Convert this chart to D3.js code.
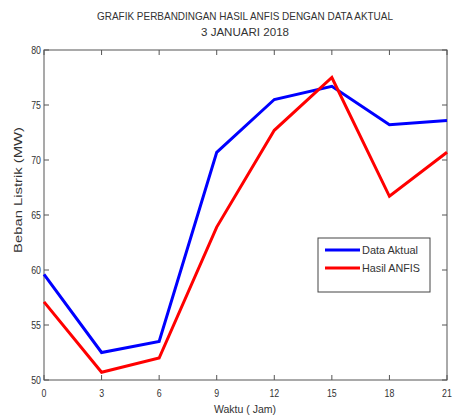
<!DOCTYPE html>
<html><head><meta charset="utf-8">
<script src="https://cdn.jsdelivr.net/npm/d3@7"></script>
<style>body{margin:0;background:#fff}svg{display:block;font-family:"Liberation Sans",Arial,sans-serif}</style>
</head><body><svg id="c" width="453" height="419"></svg>
<script>
const hours = [0, 3, 6, 9, 12, 15, 18, 21];
const dataAktual = [59.6, 52.5, 53.5, 70.7, 75.5, 76.7, 73.2, 73.6];
const hasilAnfis = [57.1, 50.7, 52.0, 63.9, 72.7, 77.5, 66.7, 70.7];
const xTicks = [0, 3, 6, 9, 12, 15, 18, 21];
const yTicks = [50, 55, 60, 65, 70, 75, 80];
const seriesNames = ["Data Aktual", "Hasil ANFIS"];
const seriesColors = ["#0000ff", "#ff0000"];
const titleLines = ["GRAFIK PERBANDINGAN HASIL ANFIS DENGAN DATA AKTUAL", "3 JANUARI 2018"];

const svg = d3.select("#c");
const L = 44, R = 447, T = 50, B = 380;
const x = d3.scaleLinear().domain([0, 21]).range([L, R]);
const y = d3.scaleLinear().domain([50, 80]).range([B, T]);

// box
svg.append("rect").attr("x", L).attr("y", T).attr("width", R - L).attr("height", B - T)
  .attr("fill", "#fff").attr("stroke", "#555").attr("stroke-width", 1);

// ticks (inward, all four sides)
const tl = 5;
const g = svg.append("g").attr("stroke", "#555").attr("stroke-width", 1);
xTicks.forEach(t => {
  g.append("line").attr("x1", x(t)).attr("x2", x(t)).attr("y1", B).attr("y2", B - tl);
  g.append("line").attr("x1", x(t)).attr("x2", x(t)).attr("y1", T).attr("y2", T + tl);
});
yTicks.forEach(t => {
  g.append("line").attr("x1", L).attr("x2", L + tl).attr("y1", y(t)).attr("y2", y(t));
  g.append("line").attr("x1", R).attr("x2", R - tl).attr("y1", y(t)).attr("y2", y(t));
});

// tick labels (horizontally condensed)
svg.append("g").selectAll("text").data(xTicks).join("text")
  .attr("x", 0).attr("y", B + 17).attr("text-anchor", "middle")
  .attr("font-size", 11).attr("fill", "#333")
  .attr("transform", d => `translate(${Math.min(x(d), 447)},0) scale(0.8,1)`)
  .text(d => d);
svg.append("g").selectAll("text").data(yTicks).join("text")
  .attr("x", 0).attr("y", d => y(d) + 4).attr("text-anchor", "end")
  .attr("font-size", 11).attr("fill", "#333")
  .attr("transform", `translate(${L-3},0) scale(0.8,1)`)
  .text(d => d);

// lines
const line = d3.line().x((d, i) => x(hours[i])).y(d => y(d));
[dataAktual, hasilAnfis].forEach((s, i) => {
  svg.append("path").datum(s).attr("d", line).attr("fill", "none")
    .attr("stroke", seriesColors[i]).attr("stroke-width", 3).attr("stroke-linejoin", "miter");
});

// title
titleLines.forEach((t, i) => {
  const tx = svg.append("text").attr("x", 245).attr("y", 20 + i * 16).attr("text-anchor", "middle")
    .attr("font-size", 11).attr("fill", "#333").text(t);
  if (i === 0) tx.attr("textLength", 296).attr("lengthAdjust", "spacingAndGlyphs");
  else tx.attr("textLength", 88).attr("lengthAdjust", "spacingAndGlyphs");
});

// axis labels
svg.append("text").attr("x", 245).attr("y", 413).attr("text-anchor", "middle")
  .attr("font-size", 11).attr("fill", "#333")
  .attr("textLength", 62).attr("lengthAdjust", "spacingAndGlyphs").text("Waktu ( Jam)");
svg.append("text").attr("transform", "translate(22,190) rotate(-90)").attr("text-anchor", "middle")
  .attr("font-size", 11).attr("fill", "#333")
  .attr("textLength", 126).attr("lengthAdjust", "spacingAndGlyphs").text("Beban Listrik (MW)");

// legend
const lg = svg.append("g");
lg.append("rect").attr("x", 318).attr("y", 238).attr("width", 112).attr("height", 54)
  .attr("fill", "#fff").attr("stroke", "#444").attr("stroke-width", 1);
seriesNames.forEach((n, i) => {
  const yy = 250 + i * 18;
  lg.append("line").attr("x1", 325).attr("x2", 360).attr("y1", yy).attr("y2", yy)
    .attr("stroke", seriesColors[i]).attr("stroke-width", 3);
  const w = i === 0 ? 56 : 58;
  lg.append("text").attr("x", 362).attr("y", yy + 4).attr("font-size", 11).attr("fill", "#333")
    .attr("textLength", w).attr("lengthAdjust", "spacingAndGlyphs").text(n);
});
</script></body></html>
